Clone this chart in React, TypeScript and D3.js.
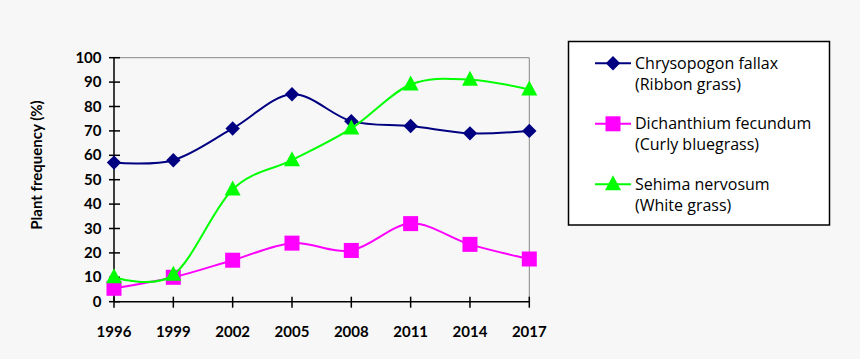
import React from "react";
import * as d3 from "d3";

const years = ["1996", "1999", "2002", "2005", "2008", "2011", "2014", "2017"];
const chrysopogon = [57, 58, 71, 85, 74, 72, 69, 70];
const dichanthium = [5.5, 10, 17, 24, 21, 32, 23.5, 17.5];
const sehima = [10, 11, 46, 58, 71, 89, 91, 87];
const yTicks = [0, 10, 20, 30, 40, 50, 60, 70, 80, 90, 100];
const seriesNames = [
  ["Chrysopogon fallax", "(Ribbon grass)"],
  ["Dichanthium fecundum", "(Curly bluegrass)"],
  ["Sehima nervosum", "(White grass)"],
];

const W = 860;
const H = 359;
const left = 114;
const right = 529.3;
const top = 57.7;
const bottom = 301.7;

const colors = ["#000080", "#ff00ff", "#00ff00"];
const markers = ["diamond", "square", "triangle"];

function Marker({ kind, x, y, color }: { kind: string; x: number; y: number; color: string }) {
  if (kind === "diamond") {
    const r = 7.2;
    return <path d={`M${x},${y - r}L${x + r},${y}L${x},${y + r}L${x - r},${y}Z`} fill={color} />;
  }
  if (kind === "square") {
    const s = 15;
    return <rect x={x - s / 2} y={y - s / 2} width={s} height={s} fill={color} />;
  }
  const w = 16;
  const h = 15;
  return <path d={`M${x},${y - h * 0.6}L${x + w / 2},${y + h * 0.4}L${x - w / 2},${y + h * 0.4}Z`} fill={color} />;
}

export default function App() {
  const x = d3.scalePoint<string>().domain(years).range([left, right]);
  const y = d3.scaleLinear().domain([0, 100]).range([bottom, top]);
  const line = d3
    .line<number>()
    .x((_, i) => x(years[i]) as number)
    .y((d) => y(d))
    .curve(d3.curveCardinal.tension(0));
  const data = [chrysopogon, dichanthium, sehima];
  const font = "Lato, 'Open Sans', sans-serif";

  return (
    <svg
      width={W}
      height={H}
      style={{ position: "absolute", left: 0, top: 0, display: "block" }}
      fontFamily={font}
    >
      <rect x={0} y={0} width={W} height={H} fill="#f7f7f7" />
      <line x1={left} x2={right} y1={top} y2={top} stroke="#888" strokeWidth={1} />
      <line x1={right} x2={right} y1={top} y2={bottom} stroke="#888" strokeWidth={1} />
      <line x1={left} x2={left} y1={top} y2={bottom} stroke="#000" strokeWidth={1.5} />
      {yTicks.map((t) => (
        <g key={t}>
          <line x1={left - 5} x2={left + 6} y1={y(t)} y2={y(t)} stroke="#000" strokeWidth={1.5} />
          <text x={101.5} y={y(t) + 5} textAnchor="end" fontSize={15} fontWeight="bold" fill="#000">
            {t}
          </text>
        </g>
      ))}
      <line x1={left} x2={right} y1={bottom} y2={bottom} stroke="#000" strokeWidth={1.5} />
      {years.map((yr) => (
        <g key={yr}>
          <line x1={x(yr)} x2={x(yr)} y1={bottom - 5} y2={bottom + 6} stroke="#000" strokeWidth={1.5} />
          <text x={x(yr)} y={337} textAnchor="middle" fontSize={15} fontWeight="bold" fill="#000">
            {yr}
          </text>
        </g>
      ))}
      <text
        transform={`translate(42,165) rotate(-90)`}
        textAnchor="middle"
        fontSize={15}
        fontWeight="bold"
        fill="#000"
      >
        Plant frequency (%)
      </text>
      {data.map((d, si) => (
        <g key={si}>
          <path d={line(d) || ""} fill="none" stroke={colors[si]} strokeWidth={2} />
          {d.map((v, i) => (
            <Marker key={i} kind={markers[si]} x={x(years[i]) as number} y={y(v)} color={colors[si]} />
          ))}
        </g>
      ))}
      <rect x={568.5} y={41.5} width={261} height={183.5} fill="#ffffff" stroke="#000" strokeWidth={1.5} />
      {seriesNames.map((nm, i) => {
        const ly = 63.3 + i * 60.5;
        return (
          <g key={i} fontFamily="'Open Sans', sans-serif">
            <line x1={595} x2={631} y1={ly} y2={ly} stroke={colors[i]} strokeWidth={2} />
            <Marker kind={markers[i]} x={613} y={ly} color={colors[i]} />
            <text x={635} y={ly + 5.5} fontSize={16} fill="#000">
              {nm[0]}
            </text>
            <text x={635} y={ly + 26.5} fontSize={16} fill="#000">
              {nm[1]}
            </text>
          </g>
        );
      })}
    </svg>
  );
}
